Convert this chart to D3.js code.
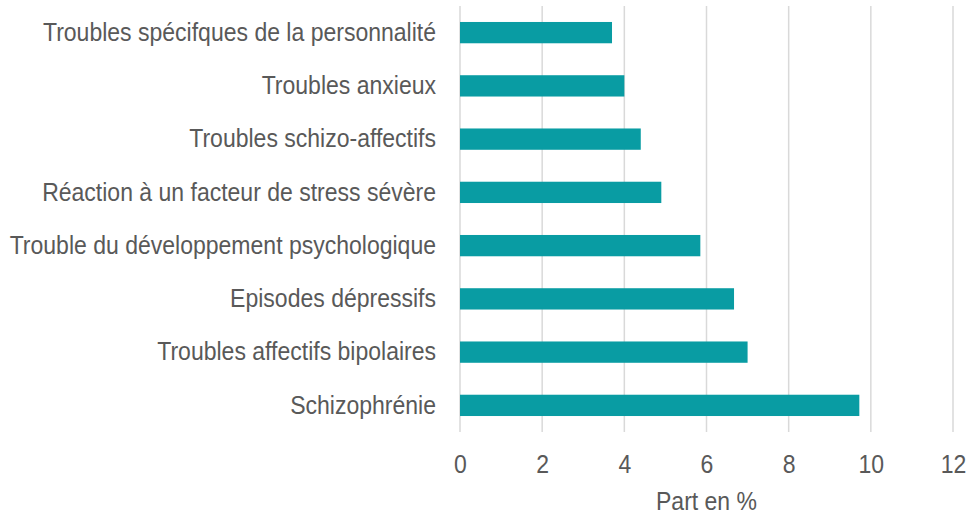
<!DOCTYPE html>
<html><head><meta charset="utf-8">
<script src="https://cdn.jsdelivr.net/npm/d3@7"></script>
<style>body{margin:0;background:#fff}svg{display:block}</style>
</head><body>
<svg id="c" width="971" height="518"></svg>
<script>
const categories = [
  "Troubles spécifques de la personnalité",
  "Troubles anxieux",
  "Troubles schizo-affectifs",
  "Réaction à un facteur de stress sévère",
  "Trouble du développement psychologique",
  "Episodes dépressifs",
  "Troubles affectifs bipolaires",
  "Schizophrénie"
];
const values = [3.7, 4.0, 4.4, 4.9, 5.85, 6.67, 7.0, 9.72];
const xTicks = [0, 2, 4, 6, 8, 10, 12];
const xTitle = "Part en %";

const svg = d3.select("#c");
const font = "'Liberation Sans', Arial, sans-serif";
const textColor = "#595959";
const fs = 26, sx = 0.885;
const x = d3.scaleLinear().domain([0, 12]).range([460, 953]);
const y = d3.scaleBand().domain(categories).range([6, 432]).paddingInner(0.6).paddingOuter(0.3);

svg.append("g").selectAll("line").data(xTicks).join("line")
  .attr("x1", d => x(d)).attr("x2", d => x(d))
  .attr("y1", 6).attr("y2", 432)
  .attr("stroke", "#d9d9d9").attr("stroke-width", 1.5);

svg.append("g").selectAll("rect").data(values).join("rect")
  .attr("x", x(0))
  .attr("y", (d, i) => y(categories[i]))
  .attr("width", d => x(d) - x(0))
  .attr("height", y.bandwidth())
  .attr("fill", "#099ca3");

const xAxis = svg.append("g").attr("transform", "translate(0,432)")
  .call(d3.axisBottom(x).tickValues(xTicks).tickSize(0).tickPadding(23));
xAxis.select(".domain").remove();
xAxis.selectAll("text").attr("font-family", font).attr("font-size", fs).attr("fill", textColor)
  .attr("transform", `scale(${sx},1)`);

const yAxis = svg.append("g").attr("transform", "translate(460,0)")
  .call(d3.axisLeft(y).tickSize(0).tickPadding(24));
yAxis.select(".domain").remove();
yAxis.selectAll("text").attr("font-family", font).attr("font-size", fs).attr("fill", textColor)
  .attr("x", -24 / sx).attr("transform", `scale(${sx},1)`);

svg.append("text")
  .attr("transform", `translate(${(x(0) + x(12)) / 2},510) scale(${sx},1)`)
  .attr("text-anchor", "middle").attr("font-family", font).attr("font-size", fs)
  .attr("fill", textColor).text(xTitle);
</script>
</body></html>
